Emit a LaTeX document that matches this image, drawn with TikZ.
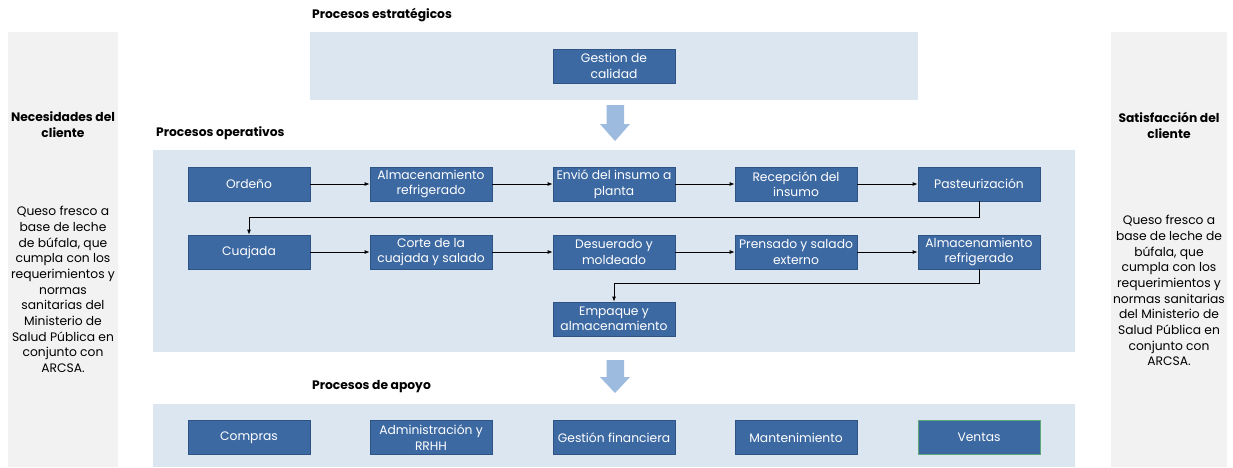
\documentclass[tikz,border=0pt]{standalone}
\usepackage{fontspec}
\setmainfont{Poppins}
\usetikzlibrary{arrows.meta,calc}

\definecolor{boxblue}{HTML}{3D69A3}
\definecolor{boxline}{HTML}{2E5485}
\definecolor{panelblue}{HTML}{DCE6F1}
\definecolor{sidegrey}{HTML}{F2F2F2}
\definecolor{arrowblue}{HTML}{9DBADF}
\definecolor{greenline}{HTML}{5FA776}

\tikzset{
  procbox/.style={draw=boxline, line width=0.8pt, fill=boxblue, text=white,
    minimum width=122pt, minimum height=34pt, inner sep=1pt, align=center,
    font=\fontsize{12.3}{15.5}\selectfont},
  heading/.style={anchor=west, inner sep=0pt, font=\bfseries\fontsize{12.3}{14}\selectfont},
  sidehead/.style={align=center, inner sep=0pt, font=\bfseries\fontsize{12.3}{16}\selectfont},
  sidebody/.style={align=center, inner sep=0pt, anchor=north, font=\fontsize{12.3}{15.7}\selectfont},
  flow/.style={draw=black, line width=0.8pt, -{Latex[length=5pt,width=4pt]}},
}

\begin{document}
\begin{tikzpicture}[x=1pt,y=-1pt]
\useasboundingbox (0,0) rectangle (1233,467);
\fill[white] (0,0) rectangle (1233,467);

% side panels
\fill[sidegrey] (8,32) rectangle (118,467);
\fill[sidegrey] (1111,32) rectangle (1227,467);

% process panels
\fill[panelblue] (310,32) rectangle (918,100);
\fill[panelblue] (153,150) rectangle (1075,352);
\fill[panelblue] (153,404) rectangle (1075,467);

% broad down arrows between panels
\fill[arrowblue] (606.5,105) -- (624,105) -- (624,124) -- (630,124) -- (615,141)
  -- (600,124) -- (606.5,124) -- cycle;
\fill[arrowblue] (606.5,360) -- (624,360) -- (624,377) -- (630,377) -- (615,393)
  -- (600,377) -- (606.5,377) -- cycle;

% section headings
\node[heading] (hstrat) at (312,15) {Procesos estratégicos};
\node[heading] (hoper) at (156,133) {Procesos operativos};
\node[heading] (hapoyo) at (312,387) {Procesos de apoyo};

% side texts
\node[sidehead] (needs) at (63,125) {Necesidades del\\cliente};
\node[sidebody] (needstxt) at (63,206) {Queso fresco a\\base de leche\\de búfala, que\\cumpla con los\\requerimientos y\\normas\\sanitarias del\\Ministerio de\\Salud Pública en\\conjunto con\\ARCSA.};
\node[sidehead] (satis) at (1169,125) {Satisfacción del\\cliente};
\node[sidebody] (satistxt) at (1169,215) {Queso fresco a\\base de leche de\\búfala, que\\cumpla con los\\requerimientos y\\normas sanitarias\\del Ministerio de\\Salud Pública en\\conjunto con\\ARCSA.};

% strategic process
\node[procbox] (calidad) at (614,66) {Gestion de\\calidad};

% operative processes, first row
\node[procbox] (ordeno) at (249,184) {Ordeño};
\node[procbox] (alm1) at (431,184) {Almacenamiento\\refrigerado};
\node[procbox] (envio) at (614,184) {Envió del insumo a\\planta};
\node[procbox] (recep) at (796,184) {Recepción del\\insumo};
\node[procbox] (paste) at (979,184) {Pasteurización};

% operative processes, second row
\node[procbox] (cuaj) at (249,252) {Cuajada};
\node[procbox] (corte) at (431,252) {Corte de la\\cuajada y salado};
\node[procbox] (desu) at (614,252) {Desuerado y\\moldeado};
\node[procbox] (prens) at (796,252) {Prensado y salado\\externo};
\node[procbox] (alm2) at (979,252) {Almacenamiento\\refrigerado};

% operative process, third row
\node[procbox] (empaq) at (614,319) {Empaque y\\almacenamiento};

% support processes
\node[procbox] (compras) at (249,437.5) {Compras};
\node[procbox] (admin) at (431,437.5) {Administración y\\RRHH};
\node[procbox] (finan) at (614,437.5) {Gestión financiera};
\node[procbox] (mante) at (796,437.5) {Mantenimiento};
\node[procbox, draw=greenline] (ventas) at (979,437.5) {Ventas};

% flow connectors
\draw[flow] (ordeno) -- (alm1);
\draw[flow] (alm1) -- (envio);
\draw[flow] (envio) -- (recep);
\draw[flow] (recep) -- (paste);
\draw[flow] (paste.south) -- ++(0,16) -| (cuaj.north);
\draw[flow] (cuaj) -- (corte);
\draw[flow] (corte) -- (desu);
\draw[flow] (desu) -- (prens);
\draw[flow] (prens) -- (alm2);
\draw[flow] (alm2.south) -- ++(0,14) -| (empaq.north);
\end{tikzpicture}
\end{document}
